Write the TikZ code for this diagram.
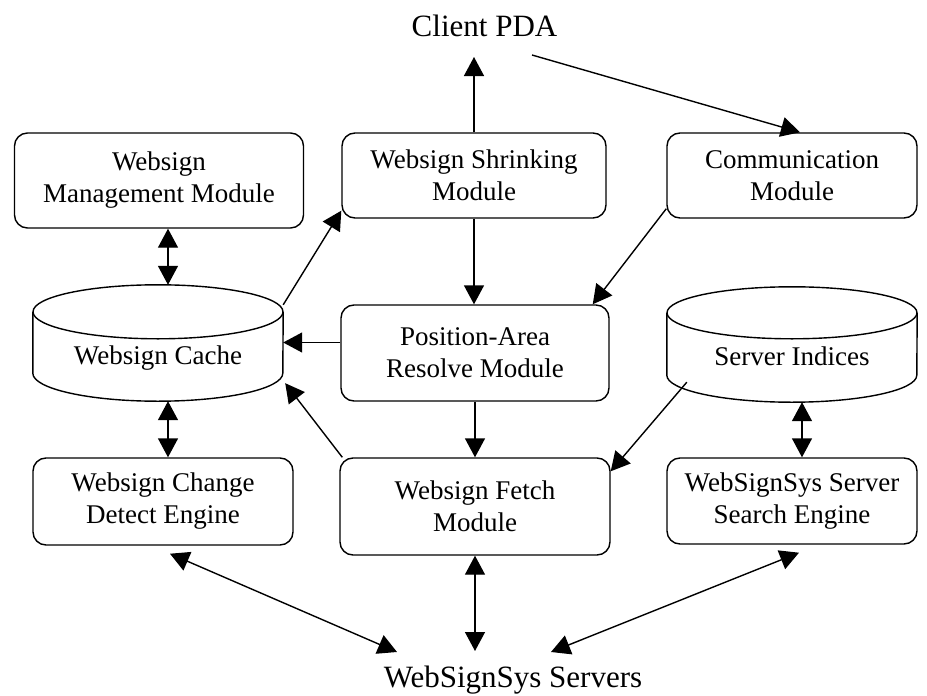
\documentclass[tikz,border=0pt]{standalone}
\usepackage{fontspec}
\setmainfont{Liberation Serif}
\usetikzlibrary{arrows.meta,calc}
\begin{document}
\begin{tikzpicture}[x=1pt,y=-1pt,
  box/.style={draw,line width=1.4pt,rounded corners=13pt,align=center,inner sep=0pt,font=\fontsize{27}{32}\selectfont},
  lbl/.style={inner sep=0pt,font=\fontsize{27}{32}\selectfont},
  title/.style={inner sep=0pt,font=\fontsize{31}{36}\selectfont},
  arr/.style={line width=1.4pt,-{Triangle[length=19pt,width=20pt]}},
  darr/.style={line width=1.4pt,{Triangle[length=19pt,width=20pt]}-{Triangle[length=19pt,width=20pt]}},
  cyl/.style={line width=1.4pt},
  cylbody/.style={minimum width=250pt,minimum height=61pt,inner sep=0pt}]
\useasboundingbox (0,0) rectangle (927,696);

\node[title] (client) at (484.5,26) {Client PDA};
\node[box,minimum width=289pt,minimum height=95pt] (mgmt) at (159,180.5) {Websign\\Management Module};
\node[box,minimum width=264pt,minimum height=85pt] (shrink) at (474,175.5) {Websign Shrinking\\Module};
\node[box,minimum width=250pt,minimum height=85pt] (comm) at (792,175.5) {Communication\\Module};
\node[box,minimum width=268pt,minimum height=96pt] (pos) at (475,353) {Position-Area\\Resolve Module};
\node[box,minimum width=260pt,minimum height=87pt] (change) at (163,501.5) {Websign Change\\Detect Engine};
\node[box,minimum width=270pt,minimum height=97pt] (fetch) at (475,506.5) {Websign Fetch\\Module};
\node[box,minimum width=250pt,minimum height=86pt] (search) at (792,501) {WebSignSys Server\\Search Engine};
\node[title] (servers) at (513,680) {WebSignSys Servers};

% cylinders
\node[cylbody] (cache) at (158,342.5) {};
\draw[cyl] (cache.north) ellipse [x radius=125pt,y radius=27pt];
\draw[cyl] (cache.north west) -- (cache.south west) arc[start angle=180,end angle=360,x radius=125pt,y radius=28pt] -- (cache.north east);
\node[lbl] (cachetext) at (158,358) {Websign Cache};

\node[cylbody,minimum height=62pt] (indices) at (792,344) {};
\draw[cyl] (indices.north) ellipse [x radius=125pt,y radius=26pt];
\draw[cyl] (indices.north west) -- (indices.south west) arc[start angle=180,end angle=360,x radius=125pt,y radius=27pt] -- (indices.north east);
\node[lbl] (indicestext) at (792,356) {Server Indices};

% free ends near the text labels
\coordinate (clientin) at (474,57);
\coordinate (clientout) at (532,55);
\coordinate (srvL) at (397,652);
\coordinate (srvM) at (475,651);
\coordinate (srvR) at (551,652);

\draw[arr] (shrink.north) -- (clientin);
\draw[arr] (clientout) -- ($(comm.north)+(8,0)$);
\draw[arr] ($(cache.north east)+(0,-7)$) -- ($(shrink.south west)+(0,-8)$);
\draw[arr] (shrink.south) -- (shrink.south |- pos.north);
\draw[arr] ($(comm.south west)+(0,-10)$) -- ($(pos.north east)+(-17,0)$);
\draw[arr] (pos.west |- cache.east) -- (cache.east);
\draw[arr] (pos.south) -- (fetch.north);
\draw[arr] ($(fetch.north west)+(3,0)$) -- ($(cache.south east)+(2,10)$);
\draw[arr] ($(indices.south west)+(20,7)$) -- ($(fetch.north east)+(0,14)$);
\draw[darr] ($(mgmt.south)+(9,0)$) -- ($(cache.north)+(10,-27)$);
\draw[darr] ($(cache.south)+(10,28)$) -- ($(change.north)+(5,0)$);
\draw[darr] ($(indices.south)+(10,27)$) -- ($(search.north)+(10,0)$);
\draw[darr] ($(change.south)+(7,8)$) -- (srvL);
\draw[darr] (fetch.south) -- (srvM);
\draw[darr] ($(search.south)+(7,8)$) -- (srvR);
\end{tikzpicture}
\end{document}
